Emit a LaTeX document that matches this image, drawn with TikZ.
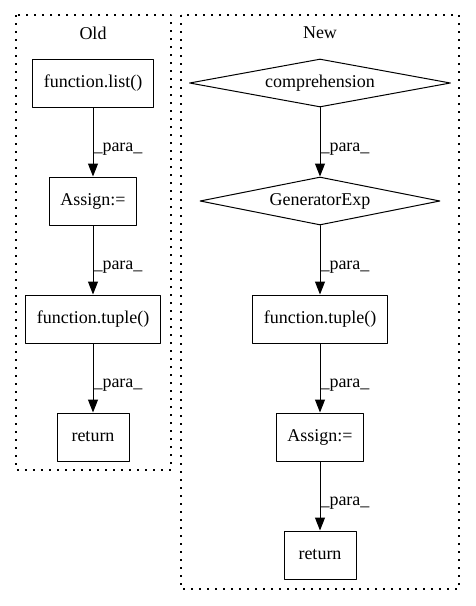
\documentclass[tikz,border=0pt]{standalone}
\usepackage{fontspec}
\setmainfont{Liberation Serif}
\usetikzlibrary{arrows.meta,shapes.geometric}

\begin{document}
\begin{tikzpicture}[x=1pt,y=-1pt,line cap=round,line join=round,>={Triangle[length=13pt,width=10pt]},
  every node/.style={font=\fontsize{18}{21}\selectfont},
  box/.style={draw,line width=1pt,minimum height=48pt,minimum width=72pt,inner xsep=11pt},
  dia/.style={draw,diamond,aspect=5,inner sep=0pt,line width=1pt,minimum height=48pt},
  cluster/.style={line width=1.2pt,line cap=butt,dash pattern=on 2pt off 6pt},
  flow/.style={->,line width=1pt},
  lbl/.style={pos=0.64,anchor=base west,inner sep=0pt}]
  \def\ox{93}
  \def\nx{320}
  \useasboundingbox (0,0) rectangle (475,606);
  \draw[cluster] (16,15) rectangle (171,470);
  \draw[cluster] (181,15) rectangle (459,589);
  \node (oldtitle) at (\ox,33) {Old};
  \node (newtitle) at (\nx,33) {New};
  \node[box] (oldlist) at (\ox,83) {function.list()};
  \node[box] (oldassign) at (\ox,201) {Assign:=};
  \node[box] (oldtuple) at (\ox,319) {function.tuple()};
  \node[box] (oldreturn) at (\ox,437) {return};
  \node[dia,minimum width=261pt] (comp) at (\nx,83) {comprehension};
  \node[dia,minimum width=240pt] (genexp) at (\nx,201) {GeneratorExp};
  \node[box] (newtuple) at (\nx,319) {function.tuple()};
  \node[box] (newassign) at (\nx,437) {Assign:=};
  \node[box] (newreturn) at (\nx,555) {return};
  \draw[flow] (oldlist) -- node[lbl] {\_para\_} (oldassign);
  \draw[flow] (oldassign) -- node[lbl] {\_para\_} (oldtuple);
  \draw[flow] (oldtuple) -- node[lbl] {\_para\_} (oldreturn);
  \draw[flow] (comp) -- node[lbl] {\_para\_} (genexp);
  \draw[flow] (genexp) -- node[lbl] {\_para\_} (newtuple);
  \draw[flow] (newtuple) -- node[lbl] {\_para\_} (newassign);
  \draw[flow] (newassign) -- node[lbl] {\_para\_} (newreturn);
\end{tikzpicture}
\end{document}
